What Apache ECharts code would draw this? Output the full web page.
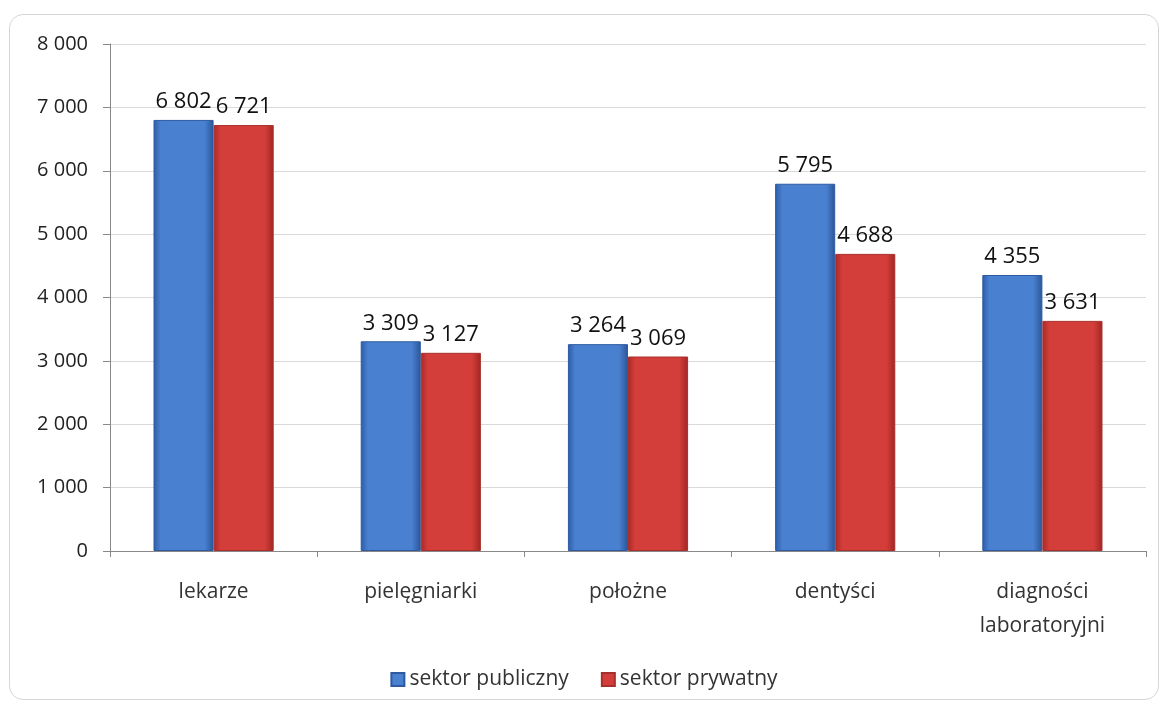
<!DOCTYPE html>
<html>
<head>
<meta charset="utf-8">
<script src="https://cdn.jsdelivr.net/npm/echarts@6/dist/echarts.min.js"></script>
<style>
  html, body { margin: 0; padding: 0; background: #fff; }
  #frame {
    position: absolute; left: 9px; top: 14px; width: 1150px; height: 686px;
    border: 1px solid #d6d6d6; border-radius: 14px; box-sizing: border-box;
  }
  #chart { position: absolute; left: 0; top: 0; width: 1168px; height: 711px; }
</style>
</head>
<body>
<div id="frame"></div>
<div id="chart"></div>
<script>
var categories = ['lekarze', 'pielęgniarki', 'położne', 'dentyści', 'diagności\nlaboratoryjni']
var seriesNames = ['sektor publiczny', 'sektor prywatny']
var publicValues = [6802, 3309, 3264, 5795, 4355]
var privateValues = [6721, 3127, 3069, 4688, 3631]
var yTicks = [0, 1000, 2000, 3000, 4000, 5000, 6000, 7000, 8000]

function fmt(v) {
  return String(v).replace(/\B(?=(\d{3})+(?!\d))/g, ' ')
}

function barGradient(a, b, c) {
  return new echarts.graphic.LinearGradient(0, 0, 1, 0, [
    { offset: 0, color: a },
    { offset: 0.12, color: b },
    { offset: 0.85, color: b },
    { offset: 1, color: c }
  ])
}

var myChart = echarts.init(document.getElementById('chart'))
var font = '"Open Sans", "Noto Sans", sans-serif'
var option = {
  animation: false,
  textStyle: { fontFamily: font },
  grid: { left: 110, right: 22, top: 44, bottom: 160 },
  legend: {
    bottom: 16,
    icon: 'rect',
    itemWidth: 13, itemHeight: 13, itemGap: 32,
    textStyle: { fontSize: 21, color: '#333', fontFamily: font },
    data: seriesNames
  },
  xAxis: {
    type: 'category',
    data: categories,
    axisLine: { lineStyle: { color: '#888' } },
    axisTick: { show: true, length: 6, lineStyle: { color: '#888' } },
    axisLabel: { fontSize: 21, color: '#333', margin: 24, lineHeight: 34 }
  },
  yAxis: {
    type: 'value',
    min: yTicks[0],
    max: yTicks[yTicks.length - 1],
    interval: 1000,
    axisLine: { show: true, lineStyle: { color: '#888' } },
    axisTick: { show: true, length: 7, lineStyle: { color: '#888' } },
    splitLine: { lineStyle: { color: '#d9d9d9' } },
    axisLabel: { fontSize: 20, color: '#222', margin: 22, formatter: fmt }
  },
  series: [{
    name: seriesNames[0],
    type: 'bar',
    data: publicValues,
    barGap: '0%',
    barCategoryGap: '42%',
    itemStyle: { color: barGradient('#2c5ca8', '#4a80d0', '#2a5598'), borderColor: '#2d5aa0', borderWidth: 1 },
    label: { show: true, position: 'top', distance: 7, fontSize: 22, color: '#111', formatter: function (p) { return fmt(p.value) } }
  }, {
    name: seriesNames[1],
    type: 'bar',
    data: privateValues,
    itemStyle: { color: barGradient('#a82a27', '#d43e3a', '#a02623'), borderColor: '#a8302c', borderWidth: 1 },
    label: { show: true, position: 'top', distance: 7, fontSize: 22, color: '#111', formatter: function (p) { return fmt(p.value) } }
  }]
}
myChart.setOption(option)
</script>
</body>
</html>
